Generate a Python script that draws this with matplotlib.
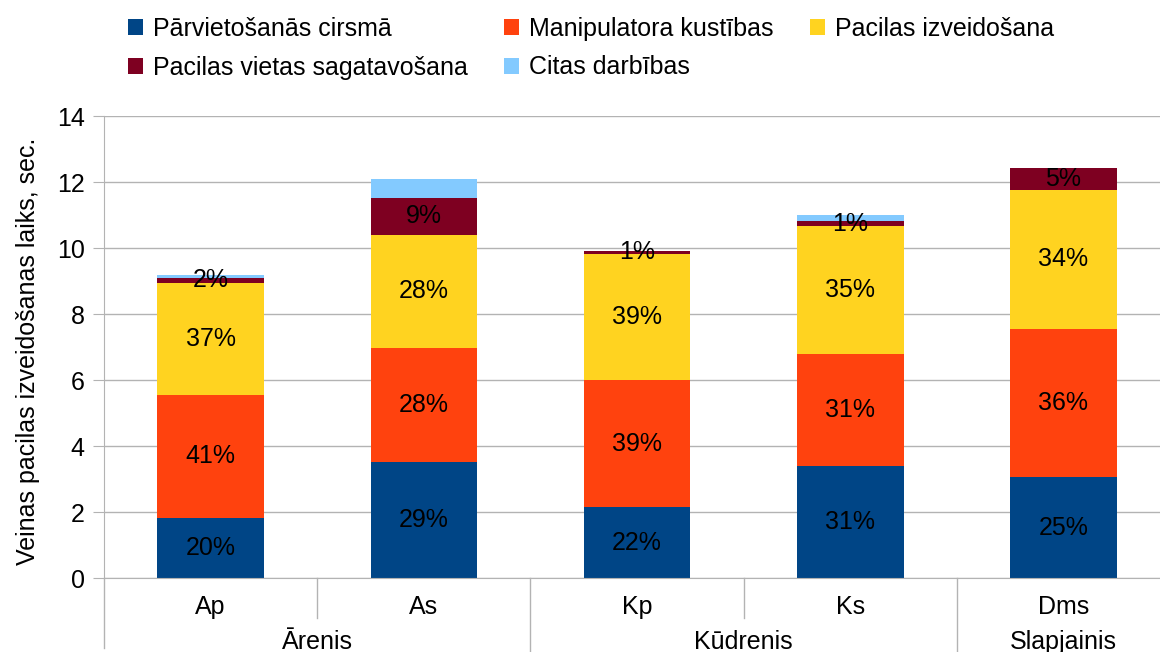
import matplotlib.pyplot as plt
import matplotlib.transforms as mtransforms
import numpy as np

plt.rcParams['font.family'] = ['Liberation Sans', 'DejaVu Sans']

# data (seconds)
categories = ['Ap', 'As', 'Kp', 'Ks', 'Dms']
groups = ['Ārenis', 'Kūdrenis', 'Slapjainis']
group_spans = [(0, 1), (2, 3), (4, 4)]
series_names = ['Pārvietošanās cirsmā', 'Manipulatora kustības', 'Pacilas izveidošana',
                'Pacilas vietas sagatavošana', 'Citas darbības']
parvietosanas = [1.82, 3.53, 2.15, 3.38, 3.06]
manipulatora = [3.73, 3.44, 3.84, 3.42, 4.49]
izveidosana = [3.40, 3.43, 3.82, 3.86, 4.21]
sagatavosana = [0.15, 1.12, 0.11, 0.16, 0.66]
citas = [0.08, 0.58, 0.0, 0.18, 0.0]
colors = ['#004586', '#ff420e', '#ffd320', '#7e0021', '#83caff']

series = [parvietosanas, manipulatora, izveidosana, sagatavosana, citas]
totals = np.sum(series, axis=0)
fs = 18

fig = plt.figure(figsize=(11.6, 6.52), dpi=100)
ax = fig.add_axes([104 / 1160, 74 / 652, 1066 / 1160, 462 / 652])

x = np.arange(len(categories))
bottom = np.zeros(len(categories))
handles = []
for i, (name, vals, c) in enumerate(zip(series_names, series, colors)):
    vals = np.array(vals)
    b = ax.bar(x, vals, 0.5, bottom=bottom, color=c, label=name, zorder=2)
    handles.append(b)
    if i < 4:
        for xi, v, bt, tot in zip(x, vals, bottom, totals):
            ax.text(xi, bt + v / 2, f'{round(v / tot * 100):.0f}%', ha='center', va='center',
                    fontsize=fs, color='black', zorder=3)
    bottom += vals

ax.set_xlim(-0.5, 4.5)
ax.set_ylim(0, 14)
ax.set_yticks(range(0, 15, 2))
ax.yaxis.grid(True, color='#b3b3b3', lw=1, zorder=0)
ax.tick_params(axis='y', length=8, color='#b3b3b3', labelsize=fs, pad=6)
ax.set_xticks(x)
ax.set_xticklabels(categories, fontsize=fs)
ax.tick_params(axis='x', length=0, pad=12)
for s in ['top', 'right']:
    ax.spines[s].set_visible(False)
for s in ['left', 'bottom']:
    ax.spines[s].set_color('#b3b3b3')
ax.set_ylabel('Veinas pacilas izveidošanas laiks, sec.', fontsize=fs)
ax.yaxis.set_label_coords(-0.06, 0.49)

# hierarchical category axis
trans = mtransforms.blended_transform_factory(ax.transData, ax.transAxes)
ax.plot([-0.5, -0.5], [0, -0.152], transform=trans, color='#b3b3b3', lw=1, clip_on=False)
for (a, b_), g in zip(group_spans, groups):
    ax.text((a + b_) / 2, -0.138, g, transform=trans, ha='center', va='center',
            fontsize=fs, clip_on=False)
    ax.plot([b_ + 0.5, b_ + 0.5], [0, -0.17], transform=trans, color='#b3b3b3', lw=1, clip_on=False)
    for k in range(a, b_):
        ax.plot([k + 0.5, k + 0.5], [0, -0.087], transform=trans, color='#b3b3b3', lw=1,
                clip_on=False)

# legend filled row by row: matplotlib fills columns, so reorder
order = [0, 3, 1, 4, 2]
fig.legend([handles[i] for i in order], [series_names[i] for i in order], loc='upper left',
           bbox_to_anchor=(128 / 1160, 1 - 17 / 652), ncol=3, frameon=False, fontsize=fs,
           handlelength=0.6, handleheight=0.6, handletextpad=0.4, columnspacing=1.45,
           labelspacing=0.58, borderpad=0, borderaxespad=0)

fig.savefig('out.png', dpi=100)
